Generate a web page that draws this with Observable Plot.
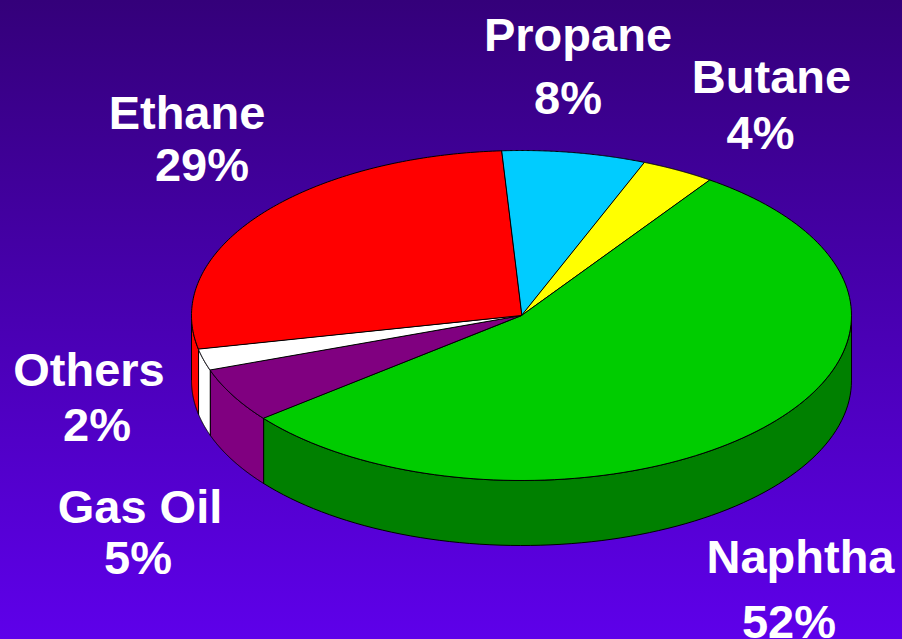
<!DOCTYPE html>
<html><head><meta charset="utf-8">
<script src="https://cdn.jsdelivr.net/npm/d3@7"></script>
<script src="https://cdn.jsdelivr.net/npm/@observablehq/plot@0.6"></script>
<style>
html,body{margin:0;padding:0;width:902px;height:639px;overflow:hidden;background:linear-gradient(#34007a,#5e00ea);}
#chart svg{display:block;}
</style></head><body><div id="chart"></div>
<script>
// ---- data ----
const categories = ["Propane", "Butane", "Naphtha", "Gas Oil", "Others", "Ethane"];
const shares = [8, 4, 52, 5, 2, 29];
const pctLabels = ["8%", "4%", "52%", "5%", "2%", "29%"];
const topColors = ["#00CCFF", "#FFFF00", "#00CC00", "#800080", "#FFFFFF", "#FF0000"];
const wallColors = ["#00A3CC", "#CCCC00", "#008000", "#800080", "#FFFFFF", "#FF0000"];

// ---- layout ----
const W = 902, H = 639;
const cx = 521, cy = 315, rx = 330, ry = 165, depth = 65;
const startDeg = -4, warp = 7 * Math.PI / 180; // perspective: front of pie appears wider
const labelLayout = [
  [577.5, 50, 567.5, 113],
  [771, 92, 760, 148],
  [800, 572, 788.5, 637],
  [139.5, 522, 137.5, 573],
  [88.5, 385, 96.5, 440],
  [186.5, 128, 201.5, 180]
];

const start = startDeg * Math.PI / 180;
const arcs = d3.pie().sort(null).startAngle(start).endAngle(start + 2 * Math.PI)(shares);
const proj = t => t - warp * Math.sin(t);
const px = p => cx + rx * Math.sin(p);
const py = p => cy - ry * Math.cos(p);

const marks = [];
// walls (front half of the rim: parametric angle 90°..270°)
arcs.forEach((a, i) => {
  let p0 = proj(a.startAngle), p1 = proj(a.endAngle);
  const lo = Math.max(p0, Math.PI / 2), hi = Math.min(p1, 3 * Math.PI / 2);
  if (hi <= lo) return;
  const n = 80, topPts = [], botPts = [];
  for (let k = 0; k <= n; k++) {
    const p = lo + (hi - lo) * k / n;
    topPts.push({x: px(p), y: py(p)});
    botPts.push({x: px(p), y: py(p) + depth});
  }
  const poly = topPts.concat(botPts.reverse());
  marks.push(Plot.line(poly, {x: "x", y: "y", fill: wallColors[i], stroke: "black", strokeWidth: 1, curve: "linear-closed"}));
});
// top faces
arcs.forEach((a, i) => {
  const n = 120, pts = [{x: cx, y: cy}];
  for (let k = 0; k <= n; k++) {
    const t = a.startAngle + (a.endAngle - a.startAngle) * k / n;
    const p = proj(t);
    pts.push({x: px(p), y: py(p)});
  }
  marks.push(Plot.line(pts, {x: "x", y: "y", fill: topColors[i], stroke: "black", strokeWidth: 1, strokeLinejoin: "round", curve: "linear-closed"}));
});
// labels
const labelRows = [];
categories.forEach((c, i) => {
  const L = labelLayout[i];
  labelRows.push({x: L[0], y: L[1], t: c});
  labelRows.push({x: L[2], y: L[3], t: pctLabels[i]});
});
marks.push(Plot.text(labelRows, {x: "x", y: "y", text: "t", fill: "white", fontSize: 47, fontWeight: "bold",
  fontFamily: "Liberation Sans, Arial, sans-serif", textAnchor: "middle", lineAnchor: "bottom"}));

const chart = Plot.plot({
  width: W, height: H, margin: 0,
  x: {domain: [0, W], range: [0, W], axis: null},
  y: {domain: [0, H], range: [0, H], axis: null},
  style: {background: "transparent", overflow: "visible"},
  marks
});
document.getElementById("chart").appendChild(chart);
</script></body></html>
